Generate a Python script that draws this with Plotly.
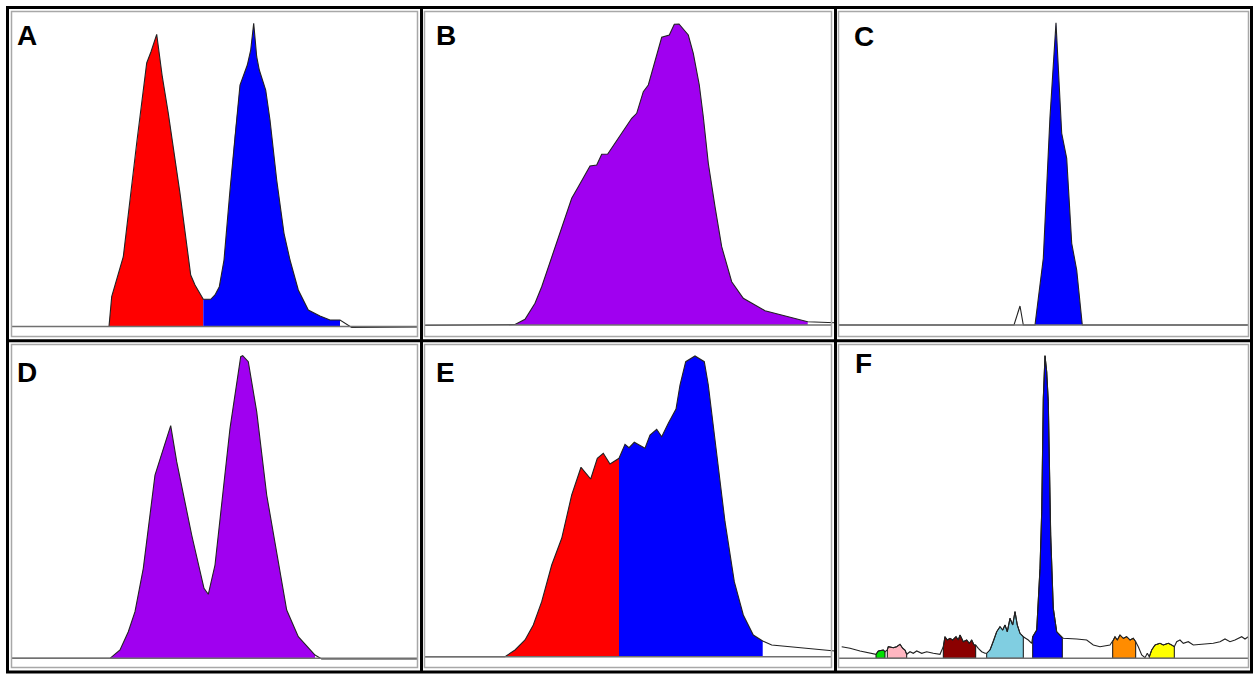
import numpy as np
import plotly.graph_objects as go

W, H = 1260, 682
COL_EDGES = [8, 421, 835, 1252]
ROW_EDGES = [8, 341, 672]

# ---------------- data (channel, count) ----------------
panel_labels = ["A", "B", "C", "D", "E", "F"]
baselines_px = [326.5, 325, 325, 658.3, 656.7, 658.3]

a_x = [3, 100, 101, 103.7, 115.3, 128.7, 138.7, 143, 148.7, 154.3, 160.3, 172, 182.7, 187, 195.3,
       202.7, 207, 211.3, 216, 222, 227, 232, 239.3, 242.7, 245.7, 248.7, 251.3, 257.7, 262, 268.7,
       276, 282, 290.3, 300.3, 312, 322, 332, 343.7, 410]
a_y = [0, 0, 0, 29.8, 69.8, 183.5, 263.5, 274.8, 292.2, 249.8, 213.2, 133.2, 51.5, 41.5, 27.2,
       27.2, 31.5, 39.8, 66.5, 136.5, 193.2, 241.5, 261.5, 276.5, 303.2, 269.8, 256.5, 236.5, 206.5, 146.5,
       93.2, 66.5, 36.5, 16.5, 10.5, 6.5, 6.5, -1, -0.5]
a_gates = [(101, 195.3, "#FF0000"), (195.3, 332, "#0000FF")]

b_x = [3, 94, 104, 114, 120.7, 130.7, 140.7, 150.7, 157.3, 169, 175.7, 180.7, 186.7, 197.3, 210.7,
       215.7, 222.3, 227.3, 234, 240.7, 248.3, 253.3, 258, 267.3, 272.3, 278.3, 282.3, 287.3, 294,
       300.7, 310.7, 322.3, 344, 357.3, 386.7, 414]
b_y = [-0.5, 0.5, 5.7, 21.7, 38.3, 68.3, 98.3, 126.7, 138.3, 159, 160, 170.7, 171, 186.7, 206.7,
       211.7, 233.3, 240, 265, 287.7, 290, 300.7, 301, 290, 271.7, 240, 208.3, 161.7, 118.3,
       78.3, 43.3, 26.7, 14.3, 11, 3.3, 2.3]
b_gates = [(94, 386.7, "#A000F0")]

c_x = [3, 179, 185, 188.3, 200, 208.3, 215, 221, 226.7, 231.7, 236.7, 241.7, 247.3, 414]
c_y = [0, 0, 19, 0, 0, 66.7, 208.3, 302.3, 191.7, 166.7, 81.7, 55, 0, 0]
c_gates = [(200, 247.3, "#0000FF")]

d_x = [3, 102, 112, 120.3, 127, 135.3, 147, 155.3, 162.7, 168.7, 183.7, 196, 200.3, 207, 222,
       232.7, 234.7, 240.3, 248.7, 258.7, 268.7, 278.7, 290.3, 307, 313.7, 410]
d_y = [0, 0, 8.3, 26.6, 46.6, 90, 183.3, 210, 232.6, 196.6, 123.3, 70, 64, 93.3, 230,
       301.6, 302.6, 296.6, 246.6, 163.3, 106.6, 48.3, 21.6, 3.3, -0.7, -0.7]
d_gates = [(102, 307, "#A000F0")]

e_x = [3, 84, 94, 104, 112.3, 120.7, 130.7, 140.7, 150.7, 160, 169.7, 176.3, 182.3, 189, 198,
       204, 208, 213.3, 224, 229, 235.7, 240.7, 247.3, 255, 259, 264.7, 274, 283.3, 287.3, 295.7,
       304, 313.3, 322.3, 332.3, 341.7, 350.7, 414]
e_y = [0, 0, 6.7, 16.7, 31.7, 55, 91.7, 118.4, 161.7, 189.4, 177.7, 198.4, 203.4, 192.7, 198.4,
       212.4, 209, 214.4, 208.4, 221.7, 227.4, 220, 233.4, 247.7, 271.7, 295, 300.7, 295, 271.7, 205,
       135, 75, 41.7, 21.7, 15.7, 11.7, 5.7]
e_gates = [(84, 198, "#FF0000"), (198, 341.7, "#0000FF")]

f_x = [6.7, 15, 25, 35, 40, 41, 43.3, 48.3, 50, 51.7, 52.3, 53.3, 58.3, 61.7, 65, 67.7, 70, 71.7,
       75, 78.3, 81.7, 86.7, 91.7, 98.3, 105, 108.3, 110, 112.3, 115, 117.7, 121, 123.3, 125, 128.3,
       131.7, 134.3, 136.7, 139, 140.7, 143.3, 146.7, 150, 151.7, 155, 158.3, 161.7, 165, 167.7, 170,
       172.3, 175, 177.7, 180, 182.3, 185, 188.3, 193.3, 196.7, 197.7, 201.7, 205, 206.7, 208.3, 210,
       211.7, 213.3, 215.7, 218.3, 221.7, 225, 227.3, 228.3, 241.7, 251.7, 258.3, 265, 275, 277.7,
       278.3, 280, 282.3, 285, 288.3, 291.7, 295, 298.3, 300.7, 303.3, 306.7, 310, 312.3, 314.3, 316.7,
       320, 325, 328.3, 333.3, 336.7, 339.3, 341.7, 345, 348.3, 353.3, 358.3, 365, 371.7, 378.3, 385,
       390, 395, 400, 406.7, 410, 413.3]
f_y = [11.6, 10, 7.3, 5, 4, 4, 7.3, 8.3, 6.6, 8.3, 8.3, 11.6, 10.6, 11.6, 14, 10, 8.3, 4,
       6.6, 5, 7.3, 5, 6.6, 5, 4, 11.6, 21.6, 18.3, 20, 18.3, 21.6, 18.3, 23.3, 16.6,
       18.3, 15, 18.3, 13.3, 13.3, 10, 6.6, 5, 5, 8.3, 16.6, 26.6, 31.6, 28.3, 33.3,
       26.6, 40, 33.3, 46.6, 33.3, 25, 21.6, 18.3, 15, 21.6, 28.3, 90, 146.6, 260, 302.6,
       286.6, 256.6, 123.3, 50, 26.6, 23.3, 20, 20, 19.3, 18.3, 13.3, 11.6, 13.3, 16.6,
       18.3, 21.6, 18.3, 23.3, 20, 21.6, 18.3, 20, 16.6, 11.6, 3.3, 0.6, 5, 1.6, 8.3,
       13.3, 15, 13.3, 15, 13.3, 11.6, 16.6, 18.3, 15, 16.6, 13.3, 14, 15, 15, 16.6,
       19.3, 16.6, 18.3, 21.6, 19.3, 21.6]
f_gates = [(41, 50, "#00E000"), (52.3, 71.7, "#FFB6C1"), (108.3, 140.7, "#8B0000"),
           (151.7, 188.3, "#80CEE1"), (197.7, 227.3, "#0000FF"), (277.7, 300.7, "#FF8C00"),
           (314.3, 339.3, "#FFFF00")]

profiles = [(a_x, a_y, a_gates), (b_x, b_y, b_gates), (c_x, c_y, c_gates),
            (d_x, d_y, d_gates), (e_x, e_y, e_gates), (f_x, f_y, f_gates)]

# label positions (pixels from each panel's top-left)
label_offsets = [(7, 27.5), (13, 27.5), (16.7, 29), (7, 31), (13, 31), (17.7, 22.7)]


def px_to_paper_x(px):
    return px / W


def px_to_paper_y(py):
    return 1 - py / H


fig = go.Figure()
shapes = []
annotations = []

for i, (px, py, gates) in enumerate(profiles):
    r, c = divmod(i, 3)
    left, right = COL_EDGES[c], COL_EDGES[c + 1]
    top, bottom = ROW_EDGES[r], ROW_EDGES[r + 1]
    base = baselines_px[i]
    xa = "x" if i == 0 else f"x{i + 1}"
    ya = "y" if i == 0 else f"y{i + 1}"
    xkey = "xaxis" if i == 0 else f"xaxis{i + 1}"
    ykey = "yaxis" if i == 0 else f"yaxis{i + 1}"
    width = right - left
    fig.update_layout({
        xkey: dict(domain=[px_to_paper_x(left), px_to_paper_x(right)], range=[0, width],
                   visible=False, fixedrange=True, anchor=ya),
        ykey: dict(domain=[px_to_paper_y(bottom), px_to_paper_y(top)],
                   range=[-(bottom - base), base - top], visible=False, fixedrange=True, anchor=xa),
    })
    xs_arr = np.array(px, dtype=float)
    ys_arr = np.array(py, dtype=float)
    for (g0, g1, col) in gates:
        inner = (xs_arr > g0) & (xs_arr < g1)
        gx = np.concatenate([[g0], xs_arr[inner], [g1]])
        gy = np.interp(gx, xs_arr, ys_arr)
        if i == 5:
            fig.add_trace(go.Scatter(x=np.concatenate([gx, [g1, g0, g0]]),
                                     y=np.concatenate([gy, [0, 0, gy[0]]]),
                                     fill="toself", fillcolor=col, mode="lines",
                                     line=dict(color="#111111", width=1),
                                     xaxis=xa, yaxis=ya, hoverinfo="skip"))
        else:
            fig.add_trace(go.Scatter(x=gx, y=gy, fill="tozeroy", fillcolor=col, mode="lines",
                                     line=dict(color=col, width=0), xaxis=xa, yaxis=ya,
                                     hoverinfo="skip"))
    fig.add_trace(go.Scatter(x=px, y=py, mode="lines",
                             line=dict(color="#222222", width=1.1),
                             xaxis=xa, yaxis=ya, hoverinfo="skip"))
    # baseline
    shapes.append(dict(type="line", xref=xa, yref=ya, x0=3, x1=width - 3, y0=0, y1=0,
                       line=dict(color="#707070", width=1.6), layer="above"))
    # inner grey frame
    shapes.append(dict(type="rect", xref="paper", yref="paper",
                       x0=px_to_paper_x(left + 3.5), x1=px_to_paper_x(right - 3.5),
                       y0=px_to_paper_y(bottom - 4.5), y1=px_to_paper_y(top + 3.5),
                       line=dict(color="#a8a8a8", width=1.5), layer="above"))
    lx, ly = label_offsets[i]
    annotations.append(dict(text=panel_labels[i], xref="paper", yref="paper",
                            x=px_to_paper_x(left + lx), y=px_to_paper_y(top + ly),
                            xanchor="left", yanchor="middle", showarrow=False,
                            font=dict(family="Liberation Sans, Arial, sans-serif", size=28,
                                      color="black", weight="bold")))

# black outer frame and dividers
black = dict(color="black", width=3)
shapes.append(dict(type="rect", xref="paper", yref="paper",
                   x0=px_to_paper_x(7.5), x1=px_to_paper_x(1251.5),
                   y0=px_to_paper_y(672), y1=px_to_paper_y(7.5), line=black, layer="above"))
for xv in [421.5, 835.5]:
    shapes.append(dict(type="line", xref="paper", yref="paper",
                       x0=px_to_paper_x(xv), x1=px_to_paper_x(xv),
                       y0=px_to_paper_y(672), y1=px_to_paper_y(7.5), line=black, layer="above"))
shapes.append(dict(type="line", xref="paper", yref="paper",
                   x0=px_to_paper_x(7.5), x1=px_to_paper_x(1251.5),
                   y0=px_to_paper_y(340.8), y1=px_to_paper_y(340.8), line=black, layer="above"))

fig.update_layout(width=W, height=H, margin=dict(l=0, r=0, t=0, b=0),
                  paper_bgcolor="white", plot_bgcolor="rgba(0,0,0,0)",
                  showlegend=False, shapes=shapes, annotations=annotations)
fig.write_html("out.html", config={"displayModeBar": False},
               post_script="document.body.style.margin='0px';document.body.style.overflow='hidden';")
